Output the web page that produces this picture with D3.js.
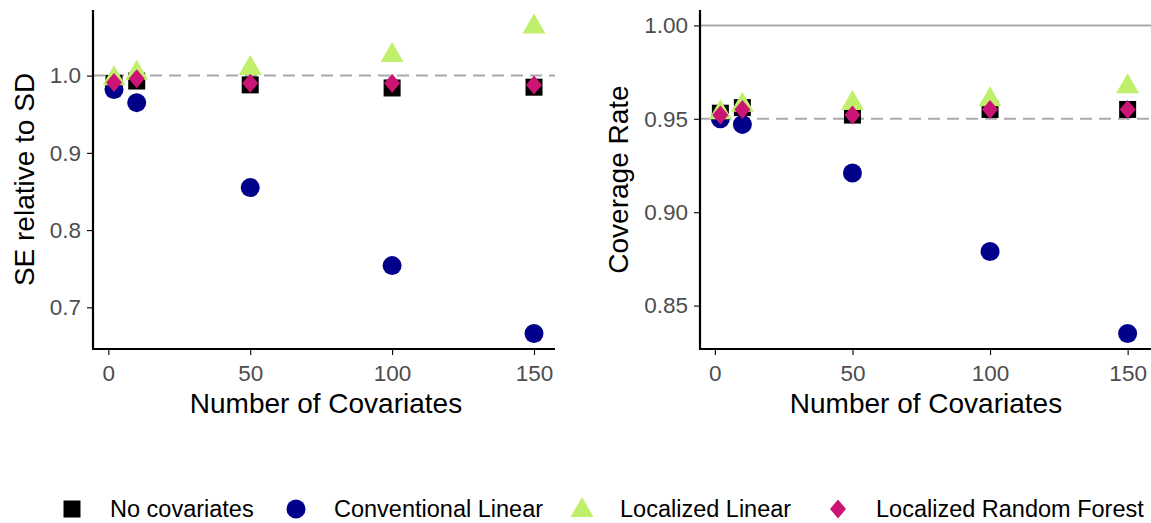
<!DOCTYPE html>
<html>
<head>
<meta charset="utf-8">
<script src="https://cdn.jsdelivr.net/npm/d3@7"></script>
<style>
  body { margin: 0; background: #fff; }
  svg { font-family: 'Liberation Sans', Arial, sans-serif; }
  .axis path, .axis line { stroke: #000; }
  .axis text { fill: #4d4d4d; font-size: 22.5px; }
</style>
</head>
<body>
<svg width="1151" height="523"></svg>
<script>
const svg = d3.select('svg');

// Data
const covariates = [2, 10, 50, 100, 150];
const methods = ['No covariates', 'Conventional Linear', 'Localized Linear', 'Localized Random Forest'];

const seNone   = [0.990, 0.993, 0.988, 0.984, 0.985];
const seConv   = [0.982, 0.965, 0.855, 0.754, 0.666];
const seLocLin = [0.998, 1.005, 1.011, 1.028, 1.065];
const seLocRF  = [0.991, 0.996, 0.990, 0.990, 0.988];

const covNone   = [0.953, 0.956, 0.952, 0.955, 0.955];
const covConv   = [0.950, 0.947, 0.921, 0.879, 0.835];
const covLocLin = [0.954, 0.958, 0.959, 0.961, 0.968];
const covLocRF  = [0.952, 0.955, 0.952, 0.955, 0.955];

const seTicks  = [0.7, 0.8, 0.9, 1.0];
const covTicks = [0.85, 0.90, 0.95, 1.00];
const xTicks   = [0, 50, 100, 150];

const colors = ['#000000', '#00008b', '#bfef6b', '#cc1474'];
const shapes = ['square', 'circle', 'triangle', 'diamond'];

function pad(lo, hi) {
  const e = (hi - lo) * 0.05;
  return [lo - e, hi + e];
}

function drawMark(g, shape, color, x, y) {
  if (shape === 'square') {
    g.append('rect').attr('x', x - 8.5).attr('y', y - 8.5)
      .attr('width', 17).attr('height', 17).attr('fill', color);
  } else if (shape === 'circle') {
    g.append('circle').attr('cx', x).attr('cy', y).attr('r', 9.5).attr('fill', color);
  } else if (shape === 'triangle') {
    g.append('path').attr('d', `M${x},${y - 12}L${x + 11.5},${y + 8}L${x - 11.5},${y + 8}Z`).attr('fill', color);
  } else {
    g.append('path').attr('d', `M${x},${y - 9.5}L${x + 8},${y}L${x},${y + 9.5}L${x - 8},${y}Z`).attr('fill', color);
  }
}

function panel(opts) {
  const g = svg.append('g');
  const xScale = d3.scaleLinear().domain(pad(2, 150)).range([opts.left, opts.right]);
  const yScale = d3.scaleLinear().domain(opts.yDomain).range([opts.bottom, opts.top]);
  const lineEnd = opts.lineEnd || opts.right;

  // reference lines
  opts.hlines.forEach(h => {
    g.append('line')
      .attr('x1', opts.left).attr('x2', lineEnd)
      .attr('y1', yScale(h.v)).attr('y2', yScale(h.v))
      .attr('stroke', '#aaaaaa').attr('stroke-width', 2)
      .attr('stroke-dasharray', h.dash ? '12,7' : null);
  });

  // points
  opts.series.forEach((vals, i) => {
    vals.forEach((v, j) => drawMark(g, shapes[i], colors[i], xScale(covariates[j]), yScale(v)));
  });

  const xAxis = d3.axisBottom(xScale).tickValues(xTicks).tickSize(6).tickPadding(10);
  const yAxis = d3.axisLeft(yScale).tickValues(opts.yTicks).tickSize(6).tickPadding(6)
    .tickFormat(opts.fmt);

  g.append('g').attr('class', 'axis')
    .attr('transform', `translate(0,${opts.bottom})`)
    .call(xAxis)
    .call(a => a.select('.domain').attr('stroke-width', 2.2).attr('d', `M${opts.left - 1},0H${lineEnd}`))
    .call(a => a.selectAll('.tick line').attr('stroke', '#333').attr('stroke-width', 1.1))
    .call(a => a.selectAll('text').attr('dy', '0.71em'));

  g.append('g').attr('class', 'axis')
    .attr('transform', `translate(${opts.left},0)`)
    .call(yAxis)
    .call(a => a.select('.domain').attr('stroke-width', 2.2).attr('d', `M0,${opts.top}V${opts.bottom + 1}`))
    .call(a => a.selectAll('.tick line').attr('stroke', '#333').attr('stroke-width', 1.1));

  g.append('text')
    .attr('x', (opts.left + opts.right) / 2 + 2).attr('y', 413)
    .attr('text-anchor', 'middle').attr('font-size', 28).attr('fill', '#000')
    .text('Number of Covariates');

  g.append('text')
    .attr('transform', `translate(${opts.ylabX},${(opts.top + opts.bottom) / 2}) rotate(-90)`)
    .attr('text-anchor', 'middle').attr('font-size', 28).attr('fill', '#000')
    .text(opts.ylab);
}

panel({
  left: 93, right: 555, top: 10, bottom: 349,
  yDomain: pad(0.666, 1.065), yTicks: seTicks, fmt: d3.format('.1f'),
  hlines: [{ v: 1.0, dash: true }],
  series: [seNone, seConv, seLocLin, seLocRF],
  ylab: 'SE relative to SD', ylabX: 34
});

panel({
  left: 700, right: 1148, lineEnd: 1151, top: 10, bottom: 349,
  yDomain: pad(0.835, 1.0), yTicks: covTicks, fmt: d3.format('.2f'),
  hlines: [{ v: 1.0, dash: false }, { v: 0.95, dash: true }],
  series: [covNone, covConv, covLocLin, covLocRF],
  ylab: 'Coverage Rate', ylabX: 628
});

// Legend
const legendX = [72, 296, 582, 838];
const legendY = 509;
const legend = svg.append('g');
methods.forEach((m, i) => {
  drawMark(legend, shapes[i], colors[i], legendX[i], legendY);
  legend.append('text')
    .attr('x', legendX[i] + 38).attr('y', legendY).attr('dy', '0.35em')
    .attr('font-size', 23.5).attr('fill', '#000')
    .text(m);
});
</script>
</body>
</html>
